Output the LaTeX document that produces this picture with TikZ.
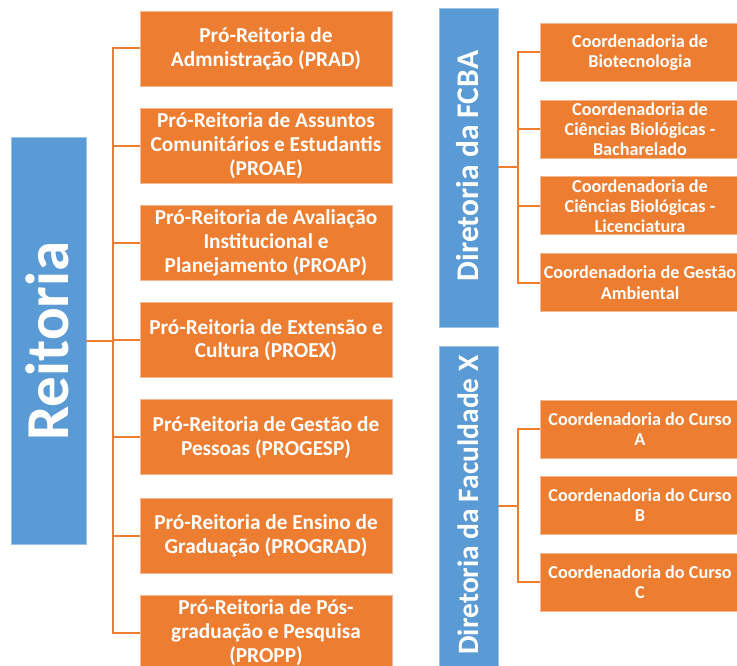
\documentclass[tikz,border=0pt]{standalone}
\usepackage{fontspec}
\setmainfont{Carlito}
\definecolor{orgfill}{HTML}{ED7D31}
\definecolor{bluefill}{HTML}{5B9BD5}
\begin{document}
\begin{tikzpicture}[x=1pt,y=-1pt,
  obox/.style={fill=orgfill,draw=orgfill!55!white,line width=0.8pt,text=white,
    font=\bfseries\fontsize{21.3}{23.8}\selectfont,align=center,
    minimum width=252pt,minimum height=75pt,inner sep=0pt},
  cbox/.style={fill=orgfill,draw=orgfill!55!white,line width=0.8pt,text=white,
    font=\bfseries\fontsize{18.2}{20.2}\selectfont,align=center,
    minimum width=200pt,minimum height=58pt,inner sep=0pt},
  bbox/.style={fill=bluefill,draw=bluefill!60!white,line width=0.8pt,text=white,inner sep=0pt},
  conn/.style={draw=orgfill,line width=2pt}]
\useasboundingbox (0,0) rectangle (737,666);
\clip (0,0) rectangle (737,666);
% Reitoria
\node[bbox,minimum width=75pt,minimum height=407pt] (reit) at (48.5,340.5) {};
\node[text=white,font=\bfseries\fontsize{61}{66}\selectfont,rotate=90] (reittxt) at (47,341) {Reitoria};
% Pro-Reitorias
\node[obox] (p1) at (266,48.5) {Pró-Reitoria de\\Admnistração (PRAD)};
\node[obox] (p2) at (266,145.7) {Pró-Reitoria de Assuntos\\Comunitários e Estudantis\\(PROAE)};
\node[obox] (p3) at (266,242.9) {Pró-Reitoria de Avaliação\\Institucional e\\Planejamento (PROAP)};
\node[obox] (p4) at (266,340.1) {Pró-Reitoria de Extensão e\\Cultura (PROEX)};
\node[obox] (p5) at (266,437.3) {Pró-Reitoria de Gestão de\\Pessoas (PROGESP)};
\node[obox] (p6) at (266,535.5) {Pró-Reitoria de Ensino de\\Graduação (PROGRAD)};
\node[obox] (p7) at (266,632.7) {Pró-Reitoria de Pós-\\graduação e Pesquisa\\(PROPP)};
\coordinate (bx) at (113,0);
\draw[conn] (p1.west) -- (p1.west -| bx) -- (p7.west -| bx) -- (p7.west);
\foreach \k in {2,...,6} {\draw[conn] (p\k.west) -- (p\k.west -| bx);}
\draw[conn] (reit.east) -- (reit.east -| bx);
% Diretoria FCBA
\node[bbox,minimum width=59pt,minimum height=319pt] (dfcba) at (468.5,167.5) {};
\node[text=white,font=\bfseries\fontsize{31.5}{34}\selectfont,rotate=90] (dfcbatxt) at (468,166) {Diretoria da FCBA};
\node[cbox] (c1) at (640,52.5) {Coordenadoria de\\Biotecnologia};
\node[cbox] (c2) at (640,129.2) {Coordenadoria de\\Ciências Biológicas -\\Bacharelado};
\node[cbox] (c3) at (640,205.9) {Coordenadoria de\\Ciências Biológicas -\\Licenciatura};
\node[cbox] (c4) at (640,282.6) {Coordenadoria de Gestão\\Ambiental};
\coordinate (rx) at (518,0);
\draw[conn] (c1.west) -- (c1.west -| rx) -- (c4.west -| rx) -- (c4.west);
\draw[conn] (c2.west) -- (c2.west -| rx);
\draw[conn] (c3.west) -- (c3.west -| rx);
\draw[conn] (dfcba.east) -- (dfcba.east -| rx);
% Diretoria Faculdade X
\node[bbox,minimum width=59pt,minimum height=320pt] (dfx) at (468.5,506) {};
\node[text=white,font=\bfseries\fontsize{29.5}{34}\selectfont,rotate=90] (dfxtxt) at (468,505) {Diretoria da Faculdade X};
\node[cbox] (ca) at (640,429) {Coordenadoria do Curso\\A};
\node[cbox] (cb) at (640,505.5) {Coordenadoria do Curso\\B};
\node[cbox] (cc) at (640,582) {Coordenadoria do Curso\\C};
\draw[conn] (ca.west) -- (ca.west -| rx) -- (cc.west -| rx) -- (cc.west);
\draw[conn] (dfx.east) -- (dfx.east -| rx);
\end{tikzpicture}
\end{document}
